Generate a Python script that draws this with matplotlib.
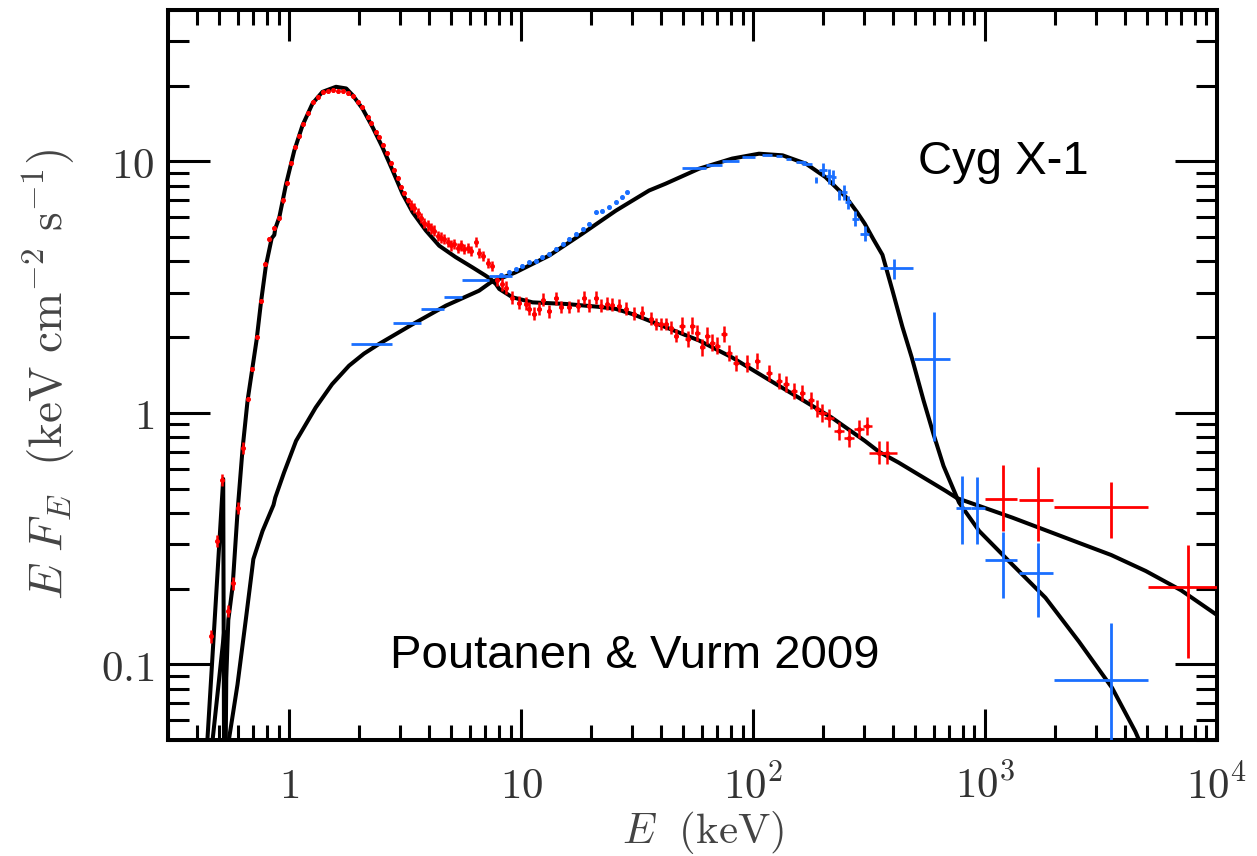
"""
Cyg X-1 spectra in hard and soft state with model fits (Poutanen & Vurm 2009)
"""

import numpy as np
import matplotlib
matplotlib.use('Agg')
from matplotlib import pyplot as plt
from matplotlib import ticker

# DATA -------------------------------------------------
# model curves (E in keV, E F_E)
soft_E = [0.43, 0.443, 0.48, 0.519, 0.524, 0.530, 0.535, 0.546, 0.570, 0.599, 0.629, 0.661,
          0.723, 0.755, 0.793, 0.84, 0.862, 0.87, 0.906, 0.968, 1.05, 1.14, 1.26, 1.39, 1.59,
          1.76, 1.88, 2.07, 2.29, 2.52, 2.79, 3.08, 3.40, 3.88, 4.43, 5.22, 6.16, 7.0, 7.4,
          7.78, 8.04, 9.17, 11.2, 15.6, 21.6, 25.6, 30.2, 42.0, 58.4, 81.2, 113, 157, 218,
          303, 349, 423, 677, 757, 1312, 2541, 3500, 4929, 7000, 10000]
soft_F = [0.040, 0.049, 0.166, 0.546, 0.03, 0.03, 0.088, 0.150, 0.205, 0.41, 0.72, 1.12,
          1.95, 2.75, 3.85, 4.95, 5.1, 5.4, 6.0, 8.1, 11.0, 13.9, 17.0, 18.9, 19.8,
          19.5, 18.3, 16.2, 13.65, 11.4, 9.2, 7.43, 6.28, 5.31, 4.62, 4.16, 3.79, 3.52, 3.40,
          3.25, 3.11, 2.88, 2.75, 2.71, 2.64, 2.59, 2.47, 2.19, 1.94, 1.66, 1.38, 1.15, 0.958,
          0.774, 0.70, 0.635, 0.489, 0.458, 0.383, 0.304, 0.272, 0.235, 0.197, 0.157]

hard_E = [0.455, 0.466, 0.524, 0.527, 0.547, 0.598, 0.651, 0.690, 0.700, 0.767, 0.855, 0.870,
          0.95, 1.07, 1.30, 1.53, 1.81, 2.10, 2.44, 3.40, 4.74, 6.58, 7.38, 9.46, 13.2, 18.3,
          25.6, 35.6, 41.9, 58.4, 81.2, 106, 134, 169, 205, 251, 280, 303, 330, 361, 399, 440,
          483, 543, 600, 662, 772, 943, 1312, 1821, 2541, 3529, 4447, 5000]
hard_F = [0.040, 0.049, 0.135, 0.040, 0.049, 0.083, 0.153, 0.235, 0.262, 0.339, 0.43, 0.46,
          0.58, 0.774, 1.05, 1.30, 1.54, 1.72, 1.88, 2.25, 2.67, 3.06, 3.30, 3.62, 4.22, 5.15,
          6.37, 7.66, 8.15, 9.35, 10.26, 10.73, 10.57, 9.79, 8.66, 7.22, 6.30, 5.65, 4.90, 4.25,
          3.06, 2.20, 1.66, 1.12, 0.82, 0.615, 0.44, 0.339, 0.249, 0.184, 0.123, 0.0806, 0.054,
          0.042]

# soft state data (red), half errors in dex
red_E = [0.460, 0.486, 0.513, 0.542, 0.570, 0.599, 0.629, 0.661, 0.691, 0.723, 0.755, 0.788,
         0.820, 0.862, 0.906, 0.936, 0.973, 1.017, 1.061, 1.104, 1.149, 1.199, 1.260, 1.324,
         1.391, 1.463, 1.537, 1.615, 1.697, 1.783, 1.874, 1.970, 2.058, 2.175, 2.250, 2.364,
         2.443, 2.525, 2.627, 2.744, 2.836, 2.930, 3.030, 3.131, 3.236, 3.346, 3.457, 3.573,
         3.696, 3.819, 3.946, 4.082, 4.217, 4.358, 4.508, 4.657, 4.812, 4.977, 5.143, 5.314,
         5.497, 5.680, 5.869, 6.071, 6.378, 6.592, 6.811, 7.157, 7.520, 7.902, 8.305, 8.59,
         9.17, 9.80, 10.48, 10.83, 11.38, 11.96, 12.36, 13.21, 14.11, 14.83, 16.10, 17.49,
         18.69, 19.64, 20.99, 22.06, 23.55, 24.75, 26.45, 28.27, 30.70, 33.33, 36.24, 38.07,
         40.01, 42.04, 44.18, 46.44, 49.29, 52.12, 54.76, 57.54, 60.47, 63.53, 66.77, 70.16,
         74.99, 78.81, 84.24, 94.5, 104.3, 117.2, 129.5, 138.4, 150.2, 163.2, 177.4, 189.3,
         199.0, 212.6, 234.8, 259.3, 286.4, 311.0, 349.2, 379.2]
red_F = [0.129, 0.309, 0.541, 0.163, 0.210, 0.418, 0.726, 1.137, 1.497, 2.008, 2.793, 3.924,
         4.934, 5.41, 5.98, 6.99, 8.17, 9.82, 11.37, 12.58, 14.04, 15.53, 17.18, 17.99,
         18.84, 19.01, 19.18, 19.01, 19.01, 18.66, 18.16, 17.18, 16.41, 14.97, 14.17, 13.05,
         12.46, 11.58, 10.76, 9.82, 9.21, 8.56, 7.88, 7.46, 6.99, 6.68, 6.50, 6.21,
         5.98, 5.71, 5.56, 5.41, 5.31, 5.07, 4.98, 4.93, 4.76, 4.63, 4.71, 4.54,
         4.63, 4.50, 4.54, 4.42, 4.76, 4.34, 4.22, 3.96, 3.85, 3.36, 3.24, 3.15,
         2.87, 2.74, 2.72, 2.60, 2.48, 2.60, 2.82, 2.53, 2.85, 2.64, 2.64, 2.67,
         2.87, 2.67, 2.87, 2.67, 2.72, 2.69, 2.67, 2.60, 2.48, 2.50, 2.37, 2.26,
         2.26, 2.26, 2.18, 2.03, 2.22, 1.97, 2.22, 2.08, 1.82, 2.03, 1.90, 1.85,
         2.06, 1.73, 1.58, 1.57, 1.61, 1.44, 1.34, 1.30, 1.22, 1.20, 1.12, 1.04,
         1.00, 0.955, 0.848, 0.795, 0.864, 0.888, 0.693, 0.693]
red_dE = [0.004]*72 + [0.008]*28 + [0.012]*20 + [0.02]*6 + [0.043]*2
red_dF = [0.025]*7 + [0.008]*38 + [0.02]*25 + [0.025]*30 + [0.033]*20 + [0.035]*6 + [0.046]*2

# COMPTEL-like soft state points: E, E_lo, E_hi, F, F_lo, F_hi
red_hi_E  = [1196, 1697, 3502, 7499]
red_hi_El = [1000, 1394, 1990, 5040]
red_hi_Eh = [1372, 1968, 5050, 10000]
red_hi_F  = [0.453, 0.450, 0.422, 0.203]
red_hi_Fl = [0.339, 0.309, 0.318, 0.106]
red_hi_Fh = [0.620, 0.610, 0.531, 0.298]

# hard state data (blue)
blue_bar_El = [1.84, 2.79, 3.71, 4.65, 5.58, 7.28]
blue_bar_Eh = [2.77, 3.69, 4.65, 5.58, 7.28, 9.17]
blue_bar_F  = [1.88, 2.27, 2.60, 2.88, 3.39, 3.50]

blue_E = [8.16, 8.89, 9.49, 10.1, 10.8, 11.6, 12.3, 13.2, 14.1, 15.1, 16.1, 17.2, 18.4,
          19.6, 21.0, 22.4, 23.9, 25.6, 27.3, 28.7]
blue_F = [3.54, 3.62, 3.73, 3.85, 3.97, 4.03, 4.16, 4.29, 4.49, 4.70, 4.92, 5.15, 5.39,
          5.64, 6.28, 6.37, 6.57, 6.88, 7.20, 7.54]

blue_mid_El = [49.3, 62.6, 73.5, 89.6, 109.6, 125, 138, 152.7, 163]
blue_mid_Eh = [62.6, 73.5, 87.0, 102, 120.8, 133, 146, 169, 180]
blue_mid_F  = [9.40, 9.70, 10.03, 10.40, 10.63, 10.47, 10.25, 9.93, 9.78]

blue_x_E  = [186, 199.6, 212.6, 222, 234.8, 246, 257, 275, 303]
blue_x_F  = [8.45, 9.27, 8.71, 8.66, 7.32, 7.55, 6.88, 5.91, 5.15]
blue_x_dE = [0.004, 0.017, 0.012, 0.012, 0.004, 0.012, 0.012, 0.015, 0.02]
blue_x_dF = [0.012, 0.025, 0.03, 0.03, 0.02, 0.03, 0.025, 0.03, 0.03]

blue_hi_E  = [405, 600, 798, 921, 1196, 1697, 3502]
blue_hi_El = [354, 493, 750, 870, 1000, 1394, 1990]
blue_hi_Eh = [488, 706, 870, 1000, 1372, 1968, 5050]
blue_hi_F  = [3.77, 1.64, 0.417, 0.417, 0.259, 0.231, 0.0863]
blue_hi_Fl = [3.41, 0.774, 0.300, 0.300, 0.184, 0.154, 0.03]
blue_hi_Fh = [4.10, 2.51, 0.560, 0.555, 0.336, 0.304, 0.146]

xticks       = [1, 10, 100, 1000, 10000]
xticklabels  = ['$1$', '$10$', '$10^2$', '$10^3$', '$10^4$']
yticks       = [0.1, 1, 10]
yticklabels  = ['$0.1$', '$1$', '$10$']
# ------------------------------------------------------

red  = '#ff0000'
blue = '#1a6fff'
fontsize = 31

plt.rcParams['mathtext.fontset'] = 'cm'

def dex_err(v, d):
    v = np.asarray(v, float)
    d = np.asarray(d, float)
    return [v*(1 - 10**-d), v*(10**d - 1)]

def bound_err(v, lo, hi):
    v = np.asarray(v, float)
    return [v - np.asarray(lo), np.asarray(hi) - v]

fig = plt.figure(figsize=(12.57, 8.56), dpi=100)
ax  = fig.add_axes([168/1257, 116/856, 1049/1257, 730/856])
ax.set_xscale('log')
ax.set_yscale('log')

# models
ax.plot(soft_E, soft_F, color='k', lw=2.9, zorder=2)
ax.plot(hard_E, hard_F, color='k', lw=2.9, zorder=2)

# soft state data
ax.errorbar(red_E, red_F, xerr=dex_err(red_E, red_dE), yerr=dex_err(red_F, red_dF),
            fmt='o', ms=2.6, color=red, ecolor=red, elinewidth=1.8, capsize=0, zorder=3)
ax.errorbar(red_hi_E, red_hi_F, xerr=bound_err(red_hi_E, red_hi_El, red_hi_Eh),
            yerr=bound_err(red_hi_F, red_hi_Fl, red_hi_Fh),
            fmt='none', ecolor=red, elinewidth=2.0, capsize=0, zorder=3)

# hard state data
bar_E = np.sqrt(np.array(blue_bar_El)*np.array(blue_bar_Eh))
ax.errorbar(bar_E, blue_bar_F, xerr=bound_err(bar_E, blue_bar_El, blue_bar_Eh),
            fmt='none', ecolor=blue, elinewidth=2.0, capsize=0, zorder=3)
ax.errorbar(blue_E, blue_F, xerr=dex_err(blue_E, [0.004]*len(blue_E)),
            yerr=dex_err(blue_F, [0.006]*len(blue_F)),
            fmt='o', ms=2.6, color=blue, ecolor=blue, elinewidth=1.8, capsize=0, zorder=3)
mid_E = np.sqrt(np.array(blue_mid_El)*np.array(blue_mid_Eh))
ax.errorbar(mid_E, blue_mid_F, xerr=bound_err(mid_E, blue_mid_El, blue_mid_Eh),
            fmt='none', ecolor=blue, elinewidth=2.0, capsize=0, zorder=3)
ax.errorbar(blue_x_E, blue_x_F, xerr=dex_err(blue_x_E, blue_x_dE), yerr=dex_err(blue_x_F, blue_x_dF),
            fmt='none', ecolor=blue, elinewidth=2.0, capsize=0, zorder=3)
ax.errorbar(blue_hi_E, blue_hi_F, xerr=bound_err(blue_hi_E, blue_hi_El, blue_hi_Eh),
            yerr=bound_err(blue_hi_F, blue_hi_Fl, blue_hi_Fh),
            fmt='none', ecolor=blue, elinewidth=2.0, capsize=0, zorder=3)

# axes
ax.set_xlim(0.3, 1e4)
ax.set_ylim(0.05, 40)
ax.xaxis.set_major_locator(ticker.FixedLocator(xticks))
ax.xaxis.set_major_formatter(ticker.FixedFormatter(xticklabels))
ax.xaxis.set_minor_locator(ticker.LogLocator(base=10, subs=np.arange(2, 10), numticks=20))
ax.xaxis.set_minor_formatter(ticker.NullFormatter())
ax.yaxis.set_major_locator(ticker.FixedLocator(yticks))
ax.yaxis.set_major_formatter(ticker.FixedFormatter(yticklabels))
ax.yaxis.set_minor_locator(ticker.LogLocator(base=10, subs=np.arange(2, 10), numticks=20))
ax.yaxis.set_minor_formatter(ticker.NullFormatter())

ax.tick_params(axis='x', which='major', direction='in', length=22, width=2.2, top=True,
               bottom=True, labelsize=fontsize, pad=18, colors='k', labelcolor='#333333')
ax.tick_params(axis='x', which='minor', direction='in', length=11, width=2.2, top=True, bottom=True)
ax.tick_params(axis='y', which='major', direction='in', length=30, width=2.2, left=True,
               right=True, labelsize=fontsize, pad=10, labelcolor='#333333')
ax.tick_params(axis='y', which='minor', direction='in', length=15, width=2.2, left=True, right=True)
for s in ax.spines.values():
    s.set_linewidth(2.9)

ax.set_xlabel(r'$E\ \ (\mathrm{keV})$', fontsize=31, color='#444444')
ax.xaxis.set_label_coords(0.51, -0.095)
ax.set_ylabel(r'$E\ F_E\ \ (\mathrm{keV\ cm^{-2}\ s^{-1}})$', fontsize=34,
              color='#444444', labelpad=16)

ax.text(0.715, 0.792, 'Cyg X-1', transform=ax.transAxes, fontsize=34,
        family='Liberation Sans', ha='left', va='center')
ax.text(0.2116, 0.115, 'Poutanen & Vurm 2009', transform=ax.transAxes, fontsize=34,
        family='Liberation Sans', ha='left', va='center')

plt.savefig('out.png', dpi=100)
